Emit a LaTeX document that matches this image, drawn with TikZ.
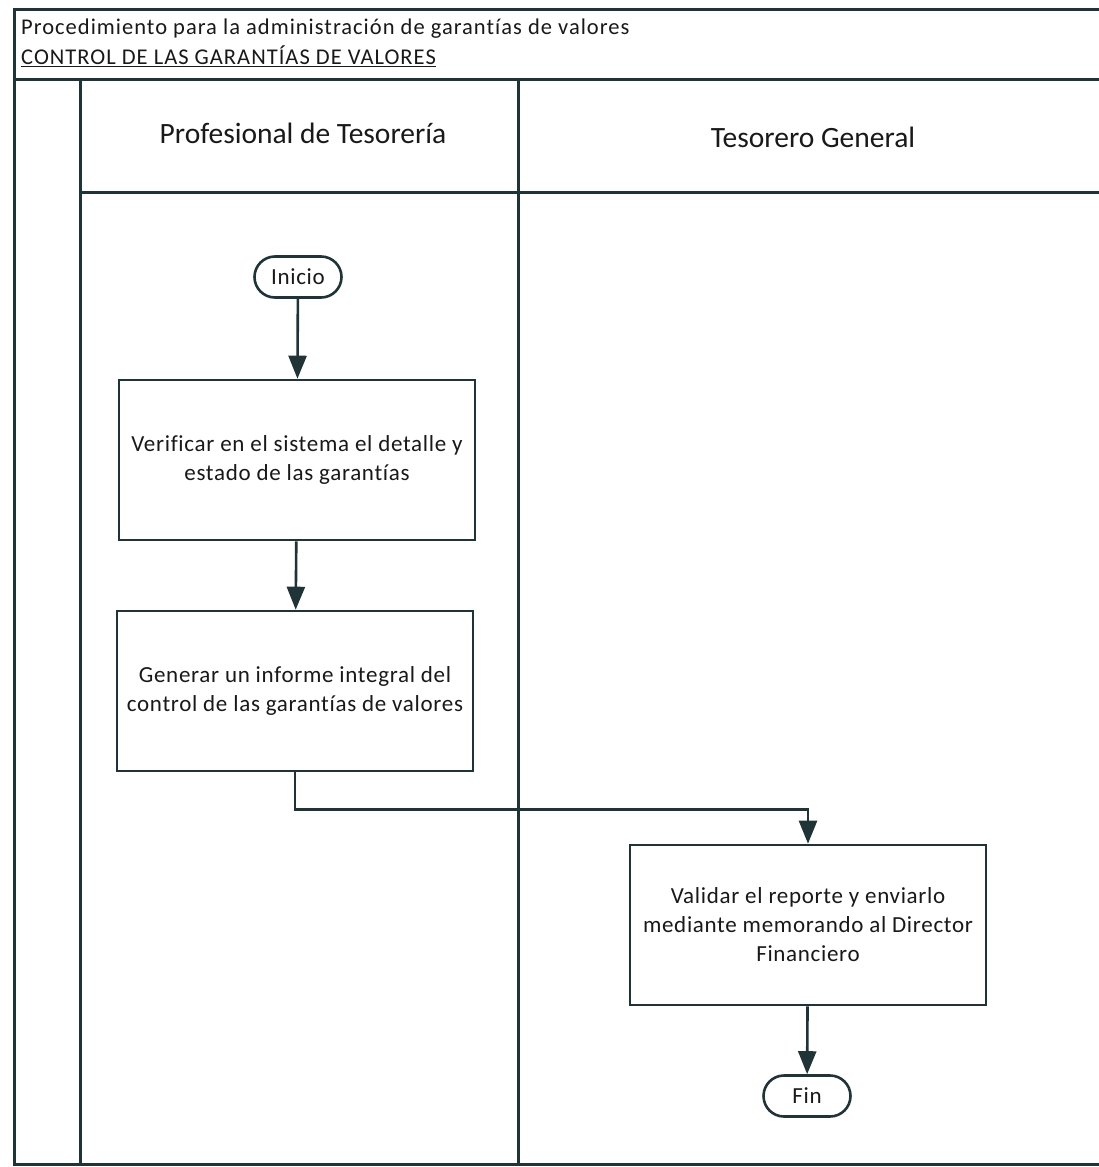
\documentclass[tikz,border=0pt]{standalone}
\usepackage{fontspec}
\setmainfont{Carlito}[Ligatures=NoCommon]
\newfontfamily\spfont[LetterSpace=3,Ligatures=NoCommon]{Carlito}
\newfontfamily\hdfont[LetterSpace=4.5,Ligatures=NoCommon]{Carlito}
\usetikzlibrary{shapes.misc,arrows.meta}
\definecolor{ln}{RGB}{32,52,56}
\definecolor{tx}{RGB}{25,25,25}
\tikzset{
  frame/.style={draw=ln,line width=3pt},
  proc/.style={draw=ln,line width=2.6pt,rectangle,minimum width=356pt,minimum height=160pt,align=center,text=tx,font=\spfont\fontsize{23}{29}\selectfont,inner sep=0pt},
  term/.style={draw=ln,line width=2.6pt,rounded rectangle,minimum width=87pt,minimum height=41pt,text=tx,font=\spfont\fontsize{23}{25}\selectfont,inner sep=0pt},
  arr/.style={draw=ln,line width=2.6pt,-{Triangle[width=18pt,length=23pt]}},
  lanetitle/.style={text=tx,font=\fontsize{29.5}{33}\selectfont,inner sep=0pt},
  hdr/.style={text=tx,font=\hdfont\fontsize{22.5}{27}\selectfont,anchor=west,inner sep=0pt}
}
\begin{document}
\begin{tikzpicture}[x=1pt,y=-1pt]
\clip (0,0) rectangle (1099,1167);
\fill[white] (0,0) rectangle (1099,1167);
% frame
\draw[frame] (1110,9) -- (14,9) -- (14,1164) -- (1110,1164);
\draw[frame] (14,79) -- (1110,79);
\draw[frame] (80,79) -- (80,1164);
\draw[frame] (518,79) -- (518,1164);
\draw[frame] (80,192) -- (1110,192);
% header texts
\node[hdr] (h1) at (21,29) {Procedimiento para la administración de garantías de valores};
\node[hdr] (h2) at (21,56) {\underline{CONTROL DE LAS GARANTÍAS DE VALORES}};
\node[lanetitle] (l1) at (303,133) {Profesional de Tesorería};
\node[lanetitle] (l2) at (813,137) {Tesorero General};
% nodes
\node[term] (ini) at (298,277) {Inicio};
\node[proc] (b1) at (297,460) {Verificar en el sistema el detalle y\\estado de las garantías};
\node[proc] (b2) at (295,691) {Generar un informe integral del\\control de las garantías de valores};
\node[proc] (b3) at (808,925) {Validar el reporte y enviarlo\\mediante memorando al Director\\Financiero};
\node[term] (fin) at (807,1096) {Fin};
% connectors
\draw[arr] (ini) -- (b1);
\draw[arr] (b1) -- (b2);
\draw[arr] (b2.south) -- ++(0,37) -| (b3.north);
\draw[arr] (b3) -- (fin);
\end{tikzpicture}
\end{document}
